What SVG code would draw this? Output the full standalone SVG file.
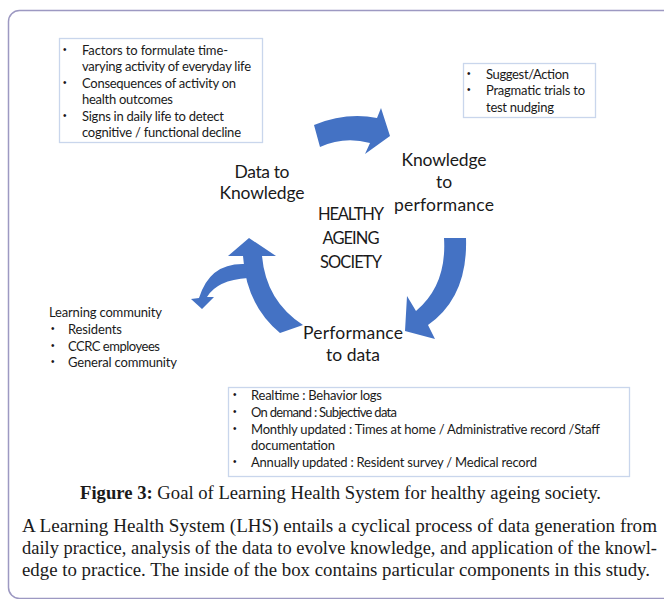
<svg xmlns="http://www.w3.org/2000/svg" width="664" height="599" viewBox="0 0 664 599">
<style>
.frame{fill:none;stroke:#9d99c2;stroke-width:1.5}
.box{fill:#fff;stroke:#c9d6ec;stroke-width:1.3}
.arrow{fill:#4472c4;stroke:none}
.sm{font-family:Lato,"Open Sans","Liberation Sans",sans-serif;font-size:13px;fill:#1a1a1a}
.b{font-family:"Liberation Sans",sans-serif;font-size:10px;fill:#1a1a1a}
.lg{font-family:Lato,"Open Sans","Liberation Sans",sans-serif;font-size:17.5px;fill:#1a1a1a;text-anchor:middle}
.md{font-family:Lato,"Open Sans","Liberation Sans",sans-serif;font-size:16.5px;fill:#1a1a1a;text-anchor:middle}
.serif{font-family:"Liberation Serif","Times New Roman",serif;font-size:18px;fill:#1a1a1a}
</style>
<rect class="frame" x="8.5" y="10.5" width="700" height="588" rx="11"/>

<g id="connectors">
<path class="arrow" d="M314,125 Q346,112 377,118 L381,108 L390,136 L365,154 L370,143 Q344,136 320,147 Z"/>
<path class="arrow" d="M444,238 L466,238 Q468,297 428,325 L435,339 L405,331 L407,296 L416,311 Q447,285 444,238 Z"/>
<path class="arrow" d="M280,333 Q246,305 243,256 L228,256 L249,238 L276,256 L262,256 Q266,301 303,325 Z"/>
<path class="arrow" d="M246,264 Q210,262 199,298 L191,299 L202,309 L214,297 L207,297 Q217,280 248,278 Z"/>
</g>

<g id="box-data-knowledge">
<rect class="box" x="59.5" y="38.5" width="203" height="104"/>
<g class="b">
<text x="63" y="53">•</text><text x="63" y="86">•</text><text x="63" y="119">•</text>
</g>
<g class="sm">
<text x="82" y="55" textLength="146">Factors to formulate time-</text>
<text x="82" y="71" textLength="169">varying activity of everyday life</text>
<text x="82" y="88" textLength="154">Consequences of activity on</text>
<text x="82" y="104" textLength="91">health outcomes</text>
<text x="82" y="121" textLength="142">Signs in daily life to detect</text>
<text x="82" y="137" textLength="159">cognitive / functional decline</text>
</g>
</g>

<g id="box-knowledge-performance">
<rect class="box" x="463.5" y="63.5" width="132" height="54"/>
<g class="b"><text x="467" y="77">•</text><text x="467" y="93">•</text></g>
<g class="sm">
<text x="486" y="79" textLength="83">Suggest/Action</text>
<text x="486" y="95" textLength="99">Pragmatic trials to</text>
<text x="486" y="112" textLength="68">test nudging</text>
</g>
</g>

<g id="label-data-to-knowledge">
<text class="lg" x="262" y="178" textLength="55">Data to</text>
<text class="lg" x="262" y="199" textLength="85">Knowledge</text>
</g>

<g id="label-knowledge-to-performance">
<text class="lg" x="444" y="166" textLength="85">Knowledge</text>
<text class="lg" x="444" y="188">to</text>
<text class="lg" x="444" y="211" textLength="100">performance</text>
</g>

<g id="center-label">
<text class="md" x="351" y="220" textLength="66">HEALTHY</text>
<text class="md" x="351" y="244" textLength="57">AGEING</text>
<text class="md" x="351" y="268" textLength="62">SOCIETY</text>
</g>

<g id="label-performance-to-data">
<text class="lg" x="353" y="339" textLength="100">Performance</text>
<text class="lg" x="353" y="361">to data</text>
</g>

<g id="learning-community">
<g class="b"><text x="51" y="332">•</text><text x="51" y="349">•</text><text x="51" y="365">•</text></g>
<g class="sm">
<text x="49" y="317" textLength="113">Learning community</text>
<text x="68" y="334" textLength="54">Residents</text>
<text x="68" y="351" textLength="92">CCRC employees</text>
<text x="68" y="367" textLength="109">General community</text>
</g>
</g>

<g id="box-performance-data">
<rect class="box" x="228.5" y="387.5" width="401" height="89"/>
<g class="b"><text x="233" y="398">•</text><text x="233" y="415">•</text><text x="233" y="432">•</text><text x="233" y="465">•</text></g>
<g class="sm">
<text x="251" y="400" textLength="131">Realtime : Behavior logs</text>
<text x="251" y="417" textLength="146">On demand : Subjective data</text>
<text x="251" y="434" textLength="349">Monthly updated : Times at home / Administrative record /Staff</text>
<text x="251" y="450" textLength="84">documentation</text>
<text x="251" y="467" textLength="286">Annually updated : Resident survey / Medical record</text>
</g>
</g>

<g id="caption">
<text class="serif" x="80" y="499" textLength="521" lengthAdjust="spacingAndGlyphs"><tspan font-weight="bold">Figure 3:</tspan> Goal of Learning Health System for healthy ageing society.</text>
<text class="serif" x="22" y="532" textLength="635" lengthAdjust="spacingAndGlyphs">A Learning Health System (LHS) entails a cyclical process of data generation from</text>
<text class="serif" x="22" y="554" textLength="635" lengthAdjust="spacingAndGlyphs">daily practice, analysis of the data to evolve knowledge, and application of the knowl-</text>
<text class="serif" x="22" y="576" textLength="628" lengthAdjust="spacingAndGlyphs">edge to practice. The inside of the box contains particular components in this study.</text>
</g>
</svg>
